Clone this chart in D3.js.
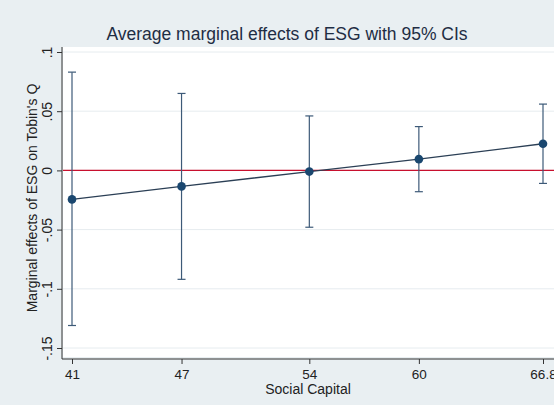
<!DOCTYPE html>
<html lang="en">
<head>
  <meta charset="UTF-8" />
  <title>Average marginal effects of ESG</title>
  <script src="https://cdn.jsdelivr.net/npm/d3@7"></script>
  <style>
    html, body { margin: 0; padding: 0; background: #e9eff2; overflow: hidden; }
    svg { display: block; font-family: Arial, "Liberation Sans", sans-serif; }
  </style>
</head>
<body>
  <script>
    // data
    const socialCapital = [41, 47, 54, 60, 66.8];
    const effect = [-0.0245, -0.0135, -0.001, 0.0095, 0.0225];
    const ciLow = [-0.131, -0.092, -0.048, -0.018, -0.011];
    const ciHigh = [0.083, 0.065, 0.046, 0.037, 0.056];
    const yTicks = [-0.15, -0.1, -0.05, 0, 0.05, 0.1];
    const yTickLabels = ["-.15", "-.1", "-.05", "0", ".05", ".1"];

    const width = 554, height = 405;
    const svg = d3.select("body").append("svg")
      .attr("width", width).attr("height", height);

    svg.append("rect").attr("width", width).attr("height", height).attr("fill", "#e9eff2");

    const x = d3.scaleLinear().domain([41, 66.8]).range([72, 543]);
    const y = d3.scaleLinear().domain([-0.15, 0.1]).range([348, 52]);

    // plot region
    svg.append("rect")
      .attr("x", 63).attr("y", 47)
      .attr("width", width - 63).attr("height", 310)
      .attr("fill", "#ffffff");

    // gridlines
    svg.append("g").selectAll("line")
      .data(yTicks)
      .join("line")
      .attr("x1", 63).attr("x2", width)
      .attr("y1", d => y(d)).attr("y2", d => y(d))
      .attr("stroke", "#e6ecef").attr("stroke-width", 1);

    // zero reference line
    svg.append("line")
      .attr("x1", 63).attr("x2", width)
      .attr("y1", y(0)).attr("y2", y(0))
      .attr("stroke", "#c8102e").attr("stroke-width", 1.2);

    // y axis
    const yAxis = d3.axisLeft(y)
      .tickValues(yTicks)
      .tickFormat((d, i) => yTickLabels[i])
      .tickSize(5)
      .tickPadding(3);
    const gy = svg.append("g").attr("transform", "translate(62,0)").call(yAxis);
    gy.select(".domain").attr("d", "M0,47V359").attr("stroke", "#333");
    gy.selectAll(".tick line").attr("stroke", "#333");
    gy.selectAll(".tick text")
      .attr("transform", "rotate(-90)")
      .attr("x", 0).attr("y", -10)
      .attr("dy", 0)
      .attr("text-anchor", "middle")
      .attr("font-size", 14)
      .attr("fill", "#222");

    // x axis
    const xAxis = d3.axisBottom(x)
      .tickValues(socialCapital)
      .tickFormat(d => String(d))
      .tickSize(5)
      .tickPadding(5);
    const gx = svg.append("g").attr("transform", "translate(0,359)").call(xAxis);
    gx.select(".domain").attr("d", "M62,0H" + width).attr("stroke", "#333");
    gx.selectAll(".tick line").attr("stroke", "#333");
    gx.selectAll(".tick text").attr("font-size", 13.5).attr("fill", "#222");

    // confidence intervals
    const ci = svg.append("g").attr("stroke", "#3d5a78").attr("stroke-width", 1.2);
    ci.selectAll("line.bar")
      .data(socialCapital)
      .join("line").attr("class", "bar")
      .attr("x1", d => x(d)).attr("x2", d => x(d))
      .attr("y1", (d, i) => y(ciLow[i])).attr("y2", (d, i) => y(ciHigh[i]));
    ci.selectAll("line.capHi")
      .data(socialCapital)
      .join("line").attr("class", "capHi")
      .attr("x1", d => x(d) - 4).attr("x2", d => x(d) + 4)
      .attr("y1", (d, i) => y(ciHigh[i])).attr("y2", (d, i) => y(ciHigh[i]));
    ci.selectAll("line.capLo")
      .data(socialCapital)
      .join("line").attr("class", "capLo")
      .attr("x1", d => x(d) - 4).attr("x2", d => x(d) + 4)
      .attr("y1", (d, i) => y(ciLow[i])).attr("y2", (d, i) => y(ciLow[i]));

    // estimate line + markers
    const line = d3.line().x(d => x(d)).y((d, i) => y(effect[i]));
    svg.append("path")
      .datum(socialCapital)
      .attr("d", line)
      .attr("fill", "none")
      .attr("stroke", "#2b3f55")
      .attr("stroke-width", 1.3);

    svg.append("g").selectAll("circle")
      .data(socialCapital)
      .join("circle")
      .attr("cx", d => x(d))
      .attr("cy", (d, i) => y(effect[i]))
      .attr("r", 4.3)
      .attr("fill", "#1a476f");

    // titles
    svg.append("text")
      .attr("x", 287).attr("y", 40)
      .attr("text-anchor", "middle")
      .attr("font-size", 17.5)
      .attr("fill", "#1e2d44")
      .text("Average marginal effects of ESG with 95% CIs");

    svg.append("text")
      .attr("x", 308).attr("y", 394)
      .attr("text-anchor", "middle")
      .attr("font-size", 14)
      .attr("fill", "#222")
      .text("Social Capital");

    svg.append("text")
      .attr("transform", "translate(37,198) rotate(-90)")
      .attr("text-anchor", "middle")
      .attr("font-size", 14)
      .attr("fill", "#222")
      .text("Marginal effects of ESG on Tobin's Q");
  </script>
</body>
</html>
